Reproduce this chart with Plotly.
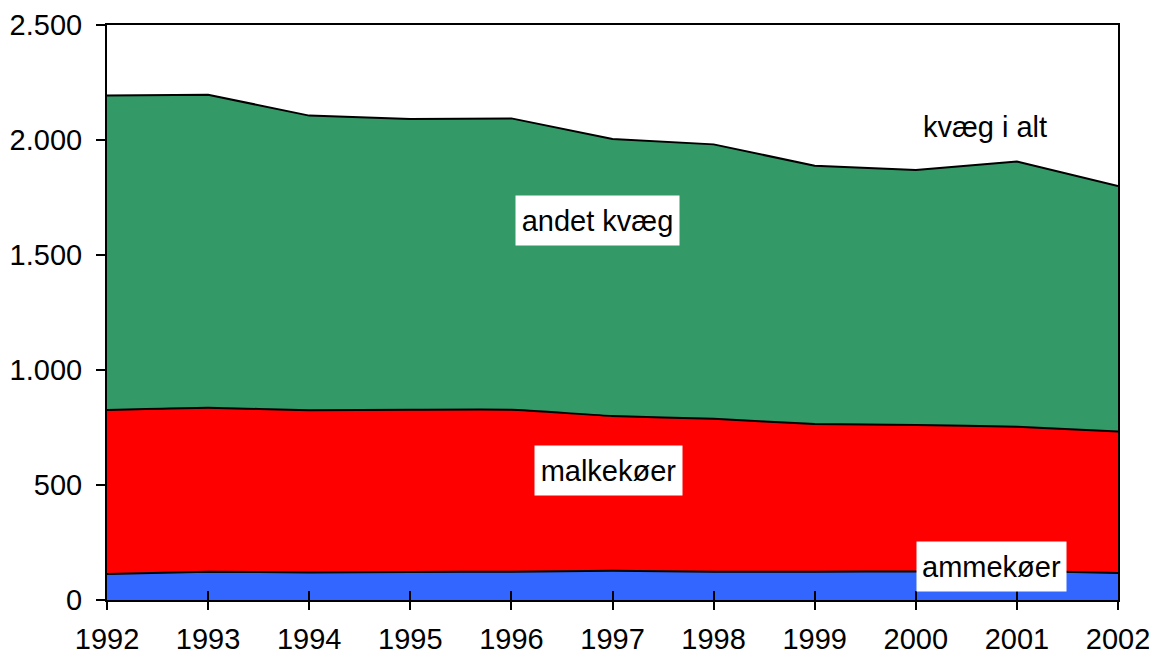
import plotly.graph_objects as go

years = [1992, 1993, 1994, 1995, 1996, 1997, 1998, 1999, 2000, 2001, 2002]
ammekoer = [113, 123, 120, 122, 123, 127, 123, 123, 124, 127, 117]
malkekoer = [713, 713, 705, 705, 704, 673, 665, 642, 637, 626, 616]
andet_kvaeg = [1367, 1361, 1281, 1264, 1267, 1204, 1193, 1123, 1109, 1153, 1067]
y_ticks = [0, 500, 1000, 1500, 2000, 2500]

FONT = "Liberation Sans, Arial, sans-serif"
FS = 29

fig = go.Figure()
fig.add_trace(go.Scatter(
    x=years, y=ammekoer, stackgroup="one", mode="lines",
    line=dict(color="black", width=2, shape="spline", smoothing=0.4),
    fillcolor="#3366FF", name="ammekøer", hoverinfo="skip"))
fig.add_trace(go.Scatter(
    x=years, y=malkekoer, stackgroup="one", mode="lines",
    line=dict(color="black", width=2, shape="spline", smoothing=0.4),
    fillcolor="#FF0000", name="malkekøer", hoverinfo="skip"))
fig.add_trace(go.Scatter(
    x=years, y=andet_kvaeg, stackgroup="one", mode="lines",
    line=dict(color="black", width=2),
    fillcolor="#339966", name="andet kvæg", hoverinfo="skip"))
# invisible trace to carry the overlay axis with inside ticks
fig.add_trace(go.Scatter(
    x=years, y=ammekoer, xaxis="x2", yaxis="y", mode="lines",
    line=dict(width=0), opacity=0, showlegend=False, hoverinfo="skip"))

fig.update_layout(
    width=1149, height=647,
    margin=dict(l=99, r=39, t=17, b=55, autoexpand=False),
    paper_bgcolor="white", plot_bgcolor="white",
    showlegend=False,
    separators=",.",
    font=dict(family=FONT, size=FS, color="black"),
    xaxis=dict(
        range=[1992, 2002], tickvals=years, ticks="outside", ticklen=8,
        tickcolor="black", tickwidth=1.5, ticklabelstandoff=4,
        showline=True, linecolor="black", linewidth=2, mirror=True,
        showgrid=False, zeroline=False, automargin=False,
        tickfont=dict(family=FONT, size=FS, color="black"),
    ),
    xaxis2=dict(
        range=[1992, 2002], tickvals=years, overlaying="x", anchor="y",
        side="bottom", ticks="inside", ticklen=9, tickcolor="black",
        tickwidth=1.5, showticklabels=False, showline=False,
        showgrid=False, zeroline=False, automargin=False,
    ),
    yaxis=dict(
        range=[0, 2500], tickvals=y_ticks, tickformat=",d",
        ticks="outside", ticklen=9, tickcolor="black", tickwidth=1.5,
        showline=True, linecolor="black", linewidth=2, mirror=True,
        showgrid=False, zeroline=False, ticklabelstandoff=8,
        automargin=False,
        tickfont=dict(family=FONT, size=FS, color="black"),
    ),
)

ann_font = dict(family=FONT, size=FS, color="black")
fig.add_annotation(x=2000.68, y=2057, xref="x", yref="y", text="kvæg i alt",
                   showarrow=False, font=ann_font)
for text, xa, ya, w in [("andet kvæg", 1996.85, 1650, 159),
                        ("malkekøer", 1996.96, 563, 143),
                        ("ammekøer", 2000.75, 146, 145)]:
    fig.add_annotation(x=xa, y=ya, xref="x", yref="y", text=text,
                       showarrow=False, font=ann_font, bgcolor="white",
                       width=w, height=45, borderpad=2, align="center")

fig.write_html("out.html")
